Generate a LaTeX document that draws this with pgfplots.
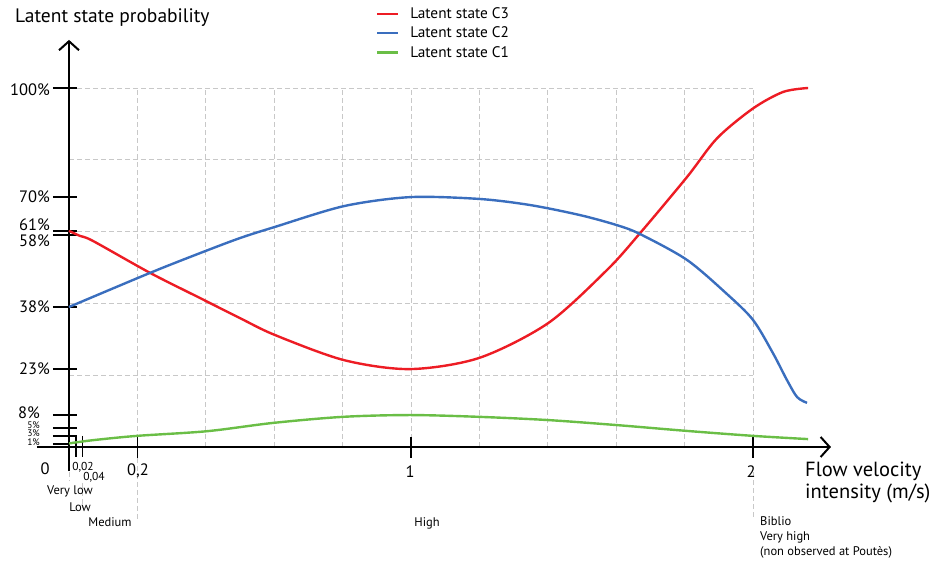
\documentclass[border=0pt]{standalone}
\usepackage{pgfplots}
\pgfplotsset{compat=1.18}
\usepackage{fontspec}
\setmainfont{PT Sans}
\usetikzlibrary{arrows.meta}
\definecolor{cred}{RGB}{237,28,36}
\definecolor{cblue}{RGB}{58,110,190}
\definecolor{cgreen}{RGB}{106,190,70}
\definecolor{cgrid}{RGB}{200,200,200}
\begin{document}
\begin{tikzpicture}[x=1pt,y=1pt]
\useasboundingbox (0,0) rectangle (946,565);
\begin{axis}[at={(34.8pt,82.1pt)},anchor=south west,scale only axis,
  width=803.7pt,height=448.75pt,xmin=-0.1,xmax=2.25,ymin=-10,ymax=115,
  axis lines=none,clip=false,
  legend style={at={(0.424,1.064)},anchor=north west,draw=none,fill=none,
    font=\fontsize{15.3}{17}\selectfont,row sep=3pt,inner sep=0pt,
    cells={anchor=west},
    /tikz/every odd column/.append style={column sep=9pt}},
  legend image code/.code={\draw[#1,line width=2.5pt] (0pt,0pt) -- (21pt,0pt);},
]
% grid
\pgfplotsinvokeforeach{0.2,0.4,0.6,0.8,1,1.2,1.4,1.6,1.8,2}{
  \draw[cgrid,dash pattern=on 5pt off 3pt,line width=0.9pt] (axis cs:#1,0) -- (axis cs:#1,100);}
\pgfplotsinvokeforeach{20,40,60,80,100}{
  \draw[cgrid,dash pattern=on 5pt off 3pt,line width=0.9pt] (axis cs:0,#1) -- (axis cs:2,#1);}
% grid continuation below axis
\draw[cgrid,dash pattern=on 5pt off 3pt,line width=0.9pt] (axis cs:0.2,-3) -- (axis cs:0.2,-20.3);
\draw[cgrid,dash pattern=on 5pt off 3pt,line width=0.9pt] (axis cs:2,-7) -- (axis cs:2,-20.3);
\draw[cgrid,dash pattern=on 5pt off 3pt,line width=0.9pt] (axis cs:0.04,-10) -- (axis cs:0.04,-16.7);
\draw[cgrid,dash pattern=on 5pt off 3pt,line width=0.9pt] (axis cs:0,-7) -- (axis cs:0,-9.5);
% axes
\draw[black,line width=2.2pt,-{Straight Barb[length=9pt,width=20pt,line width=2pt]}] (axis cs:-0.094,0) -- (axis cs:2.228,0);
\draw[black,line width=2.2pt,-{Straight Barb[length=9pt,width=20pt,line width=2pt]}] (axis cs:0,-6.7) -- (axis cs:0,113.4);
% y ticks
\pgfplotsinvokeforeach{100,69.6,60.2,59.05,39.0,21.7,8.9,5.3,3.1}{
  \draw[black,line width=1.6pt] (axis cs:-0.0468,#1) -- (axis cs:0.0234,#1);}
\draw[black,line width=1.6pt] (axis cs:-0.0468,0.8) -- (axis cs:0,0.8);
% x ticks
\pgfplotsinvokeforeach{0.2,1,2}{
  \draw[black,line width=1.6pt] (axis cs:#1,2.8) -- (axis cs:#1,-3.1);}
\pgfplotsinvokeforeach{0.02,0.04}{
  \draw[black,line width=1.6pt] (axis cs:#1,3.1) -- (axis cs:#1,-2.8);}
% curves
\addplot[cred,line width=2.4pt,smooth] coordinates {
 (0,60.2) (0.032,58.8) (0.070,57.4) (0.237,48.5) (0.383,41.5) (0.5,35.9)
 (0.602,31.2) (0.804,24.2) (0.997,21.7) (1.199,24.8) (1.401,34.5) (1.573,49.3)
 (1.670,59.6) (1.807,75.2) (1.895,86.0) (2.0,94.3) (2.088,98.9) (2.161,100)};
\addlegendentry{Latent state C3}
\addplot[cblue,line width=2.4pt,smooth] coordinates {
 (0,39.0) (0.237,48.5) (0.383,54.0) (0.5,58.2) (0.602,61.3) (0.804,67.1)
 (0.997,69.6) (1.199,69.1) (1.348,67.4) (1.494,64.6) (1.602,61.8) (1.670,59.3)
 (1.807,52.1) (1.924,42.6) (2.0,35.4) (2.058,26.2) (2.099,18.7) (2.129,13.9) (2.158,12.3)};
\addlegendentry{Latent state C2}
\addplot[cgreen,line width=2.4pt,smooth] coordinates {
 (0,1.0) (0.070,1.9) (0.199,3.1) (0.404,4.4) (0.596,6.7) (0.801,8.4)
 (0.997,8.9) (1.199,8.4) (1.401,7.5) (1.602,6.1) (1.804,4.5) (2.0,3.1) (2.161,2.2)};
\addlegendentry{Latent state C1}
\end{axis}
% texts (pixel x, 565 - pixel y)
\node[anchor=base west,inner sep=0pt,font=\fontsize{19.5}{21}\selectfont] at (15,542) {Latent state probability};
\begin{scope}[every node/.style={anchor=east,inner sep=0pt,font=\fontsize{16.5}{18}\selectfont}]
\node at (50,475) {100\%};
\node at (50,368) {70\%};
\node at (50,340) {61\%};
\node at (50,324) {58\%};
\node at (50,258) {38\%};
\node at (50,196) {23\%};
\node at (40,152) {8\%};
\end{scope}
\begin{scope}[every node/.style={anchor=east,inner sep=0pt,font=\fontsize{9.5}{11}\selectfont}]
\node at (40,139.5) {5\%};
\node at (40,131.5) {3\%};
\node at (40,123) {1\%};
\end{scope}
\begin{scope}[every node/.style={inner sep=0pt,font=\fontsize{16.5}{18}\selectfont}]
\node at (45,96) {0};
\node at (138,94) {0,2};
\node at (410,93) {1};
\node at (751,93) {2};
\end{scope}
\begin{scope}[every node/.style={inner sep=0pt,font=\fontsize{11.5}{13}\selectfont}]
\node at (83,98) {0,02};
\node at (94,88) {0,04};
\end{scope}
\begin{scope}[every node/.style={inner sep=0pt,font=\fontsize{12.5}{14}\selectfont}]
\node at (70,74) {Very low};
\node at (80,58) {Low};
\node at (110,43) {Medium};
\node at (427,42) {High};
\node[anchor=base west] at (760,39) {Biblio};
\node[anchor=base west] at (760,24) {Very high};
\node[anchor=base west] at (760,9) {(non observed at Poutès)};
\end{scope}
\node[anchor=base west,inner sep=0pt,font=\fontsize{20.5}{22}\selectfont] at (805,88) {Flow velocity};
\node[anchor=base west,inner sep=0pt,font=\fontsize{20.5}{22}\selectfont] at (805,66) {intensity (m/s)};
\end{tikzpicture}
\end{document}
